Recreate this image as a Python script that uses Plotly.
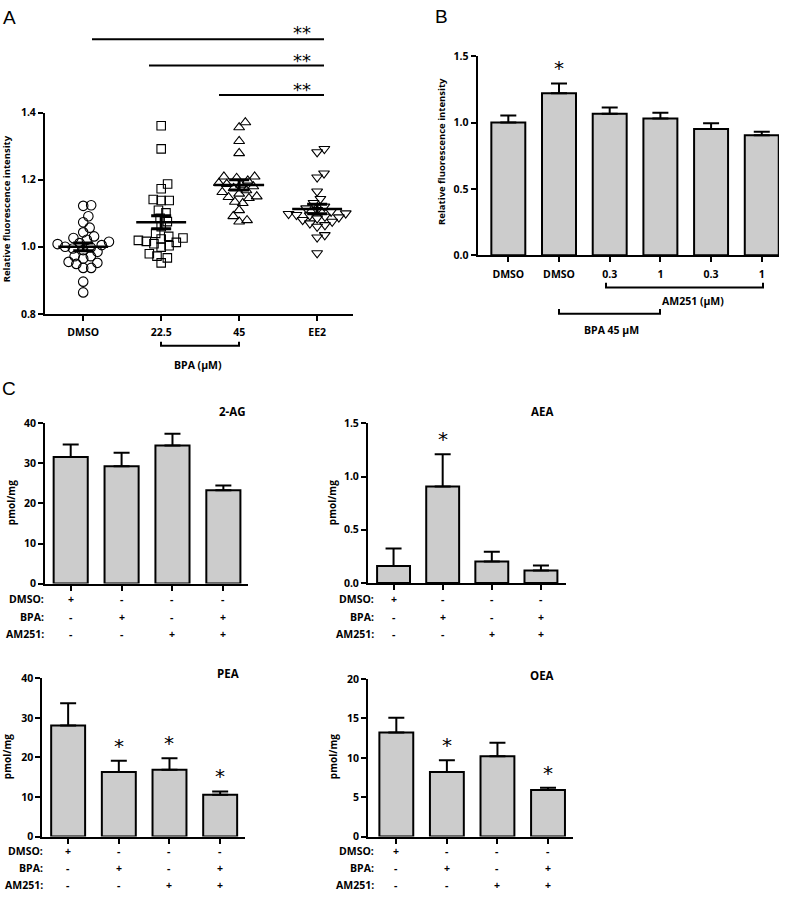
import numpy as np
import plotly.graph_objects as go

W, H = 788, 899

# ---------------- Panel A data ----------------
a_groups = ["DMSO", "22.5", "45", "EE2"]
a_dmso = [1.124, 1.122, 1.091, 1.073, 1.057, 1.043, 1.031, 1.026, 1.021, 1.015,
          1.011, 1.008, 1.005, 1.000, 0.998, 0.995, 0.990, 0.985, 0.972, 0.972,
          0.965, 0.955, 0.952, 0.949, 0.937, 0.937, 0.896, 0.864]
a_bpa225 = [1.361, 1.292, 1.187, 1.173, 1.141, 1.138, 1.138, 1.109, 1.101, 1.085,
            1.075, 1.060, 1.040, 1.031, 1.026, 1.023, 1.019, 1.016, 1.013, 1.009,
            1.003, 0.999, 0.979, 0.972, 0.967, 0.952]
a_bpa45 = [1.371, 1.356, 1.315, 1.279, 1.209, 1.209, 1.205, 1.197, 1.190, 1.187,
           1.185, 1.180, 1.175, 1.168, 1.163, 1.158, 1.150, 1.148, 1.145, 1.134,
           1.130, 1.109, 1.091, 1.079, 1.075]
a_ee2 = [1.292, 1.282, 1.219, 1.207, 1.165, 1.143, 1.131, 1.120, 1.115, 1.110,
         1.105, 1.100, 1.098, 1.095, 1.094, 1.090, 1.088, 1.085, 1.080, 1.075,
         1.070, 1.065, 1.060, 1.035, 1.028, 0.981]
a_symbols = ["circle-open", "square-open", "triangle-up-open", "triangle-down-open"]
a_sizes = [9.5, 8.5, 9.5, 9.5]

# ---------------- Panel B data ----------------
b_labels = ["DMSO", "DMSO", "0.3", "1", "0.3", "1"]
b_mean = [1.000, 1.221, 1.067, 1.030, 0.951, 0.904]
b_sem = [0.053, 0.074, 0.047, 0.045, 0.045, 0.028]
b_sig = [False, True, False, False, False, False]

# ---------------- Panel C data ----------------
c_row_names = ["DMSO:", "BPA:", "AM251:"]
c_dmso_row = ["+", "-", "-", "-"]
c_bpa_row = ["-", "+", "-", "+"]
c_am_row = ["-", "-", "+", "+"]
ag2_mean = [31.6, 29.3, 34.5, 23.3]
ag2_sem = [3.15, 3.4, 2.9, 1.2]
aea_mean = [0.160, 0.907, 0.200, 0.117]
aea_sem = [0.164, 0.303, 0.093, 0.047]
pea_mean = [28.1, 16.3, 16.9, 10.6]
pea_sem = [5.6, 2.9, 2.9, 0.8]
oea_mean = [13.2, 8.2, 10.2, 5.9]
oea_sem = [1.9, 1.5, 1.7, 0.3]
aea_sig = [False, True, False, False]
pea_sig = [False, True, True, True]
oea_sig = [False, True, False, True]

FONT = "Open Sans"
BLACK = "black"
GREY = "#cccccc"


def px(xp):
    return xp / W


def py(yp):
    return 1 - yp / H


def swarm(vals, xscale=78.0, yscale=340.0, d=8.0):
    vals = np.asarray(vals, dtype=float)
    order = np.argsort(vals)
    placed = []
    offs = np.zeros(len(vals))
    for i in order:
        y = vals[i] * yscale
        cands = [0.0]
        for xj, yj in placed:
            dy = abs(y - yj)
            if dy < d:
                dx = np.sqrt(d * d - dy * dy)
                cands += [xj + dx, xj - dx]
        cands.sort(key=abs)
        chosen = 0.0
        for c in cands:
            if all((c - xj) ** 2 + (y - yj) ** 2 >= d * d - 1e-6 for xj, yj in placed):
                chosen = c
                break
        placed.append((chosen, y))
        offs[i] = chosen / xscale
    return offs


fig = go.Figure()

# ---------------- Panel A traces ----------------
groups = [a_dmso, a_bpa225, a_bpa45, a_ee2]
for gi, vals in enumerate(groups):
    offs = swarm(vals)
    fig.add_trace(go.Scatter(
        x=gi + offs, y=vals, mode="markers", xaxis="x", yaxis="y",
        marker=dict(symbol=a_symbols[gi], size=a_sizes[gi], color=BLACK,
                    line=dict(width=1.1, color=BLACK)),
        showlegend=False, hoverinfo="skip"))
for gi, vals in enumerate(groups):
    v = np.asarray(vals)
    m = v.mean()
    s = v.std(ddof=1) / np.sqrt(len(v))
    fig.add_trace(go.Scatter(
        x=[gi - 0.32, gi + 0.32], y=[m, m], mode="lines", xaxis="x", yaxis="y",
        line=dict(color=BLACK, width=2.5), showlegend=False, hoverinfo="skip"))
    fig.add_trace(go.Scatter(
        x=[gi], y=[m], mode="markers", xaxis="x", yaxis="y",
        marker=dict(size=1, color="rgba(0,0,0,0)"),
        error_y=dict(type="data", array=[s], width=10, thickness=3, color=BLACK),
        showlegend=False, hoverinfo="skip"))


def add_bars(mean, sem, xa, ya):
    n = len(mean)
    fig.add_trace(go.Bar(
        x=list(range(n)), y=mean, width=0.67, xaxis=xa, yaxis=ya,
        marker=dict(color=GREY, line=dict(color=BLACK, width=2)),
        error_y=dict(type="data", symmetric=False, array=sem, arrayminus=[0] * n,
                     width=8, thickness=2, color=BLACK),
        showlegend=False, hoverinfo="skip"))


add_bars(b_mean, b_sem, "x2", "y2")
add_bars(ag2_mean, ag2_sem, "x3", "y3")
add_bars(aea_mean, aea_sem, "x4", "y4")
add_bars(pea_mean, pea_sem, "x5", "y5")
add_bars(oea_mean, oea_sem, "x6", "y6")

# ---------------- axes ----------------
tickfont = dict(family=FONT, size=10.5, color=BLACK, weight="bold")


def xax(dom, rng, anchor, tickvals=None, ticktext=None, labels=True):
    return dict(domain=[px(dom[0]), px(dom[1])], range=rng, anchor=anchor,
                showline=True, linecolor=BLACK, linewidth=2, mirror=False,
                ticks="outside", ticklen=5, tickwidth=2, tickcolor=BLACK,
                tickvals=tickvals, ticktext=ticktext, showticklabels=labels,
                showgrid=False, zeroline=False, tickfont=tickfont,
                ticklabelstandoff=3, fixedrange=True)


def yax(dom, rng, anchor, dtick, fmt=None):
    return dict(domain=[py(dom[1]), py(dom[0])], range=rng, anchor=anchor,
                showline=True, linecolor=BLACK, linewidth=2,
                ticks="outside", ticklen=5, tickwidth=2, tickcolor=BLACK,
                tick0=0, dtick=dtick, tickformat=fmt,
                showgrid=False, zeroline=False, tickfont=tickfont,
                fixedrange=True)


layout = dict(
    width=W, height=H, margin=dict(l=0, r=0, t=0, b=0),
    paper_bgcolor="white", plot_bgcolor="white", showlegend=False,
    bargap=0.33,
)
layout["xaxis"] = xax((45, 353), [-0.49, 3.46], "y", [0, 1, 2, 3], a_groups)
layout["yaxis"] = yax((107.3, 311.7), [0.8, 1.4], "x", 0.2, ".1f")
layout["xaxis2"] = xax((477.7, 779), [-0.604, 5.34], "y2", list(range(6)), b_labels)
layout["yaxis2"] = yax((50, 252.3), [0, 1.5], "x2", 0.5, ".1f")
layout["xaxis3"] = xax((45, 248.3), [-0.505, 3.49], "y3", [0, 1, 2, 3], None, False)
layout["yaxis3"] = yax((423, 585.7), [0, 40], "x3", 10)
layout["xaxis4"] = xax((368, 566), [-0.52, 3.51], "y4", [0, 1, 2, 3], None, False)
layout["yaxis4"] = yax((423, 585), [0, 1.5], "x4", 0.5, ".1f")
layout["xaxis5"] = xax((42.3, 245), [-0.51, 3.49], "y5", [0, 1, 2, 3], None, False)
layout["yaxis5"] = yax((682, 842.7), [0, 40], "x5", 10)
layout["xaxis6"] = xax((368, 573.3), [-0.56, 3.5], "y6", [0, 1, 2, 3], None, False)
layout["yaxis6"] = yax((682.7, 842.7), [0, 20], "x6", 5)

shapes = []
ann = []


def line_px(x0, y0, x1, y1, w=2):
    shapes.append(dict(type="line", xref="paper", yref="paper",
                       x0=px(x0), y0=py(y0), x1=px(x1), y1=py(y1),
                       line=dict(color=BLACK, width=w)))


def bracket(x0, x1, y, up=5):
    shapes.append(dict(type="path", xref="paper", yref="paper",
                       path=f"M{px(x0)},{py(y - up)} L{px(x0)},{py(y)} L{px(x1)},{py(y)} L{px(x1)},{py(y - up)}",
                       line=dict(color=BLACK, width=2)))


def text_px(x, y, t, size=10.5, bold=True, xanchor="center", family=FONT, angle=0):
    ann.append(dict(x=px(x), y=py(y), xref="paper", yref="paper", text=t,
                    showarrow=False, xanchor=xanchor, yanchor="middle",
                    textangle=angle, borderpad=0,
                    font=dict(family=family, size=size, color=BLACK,
                              weight="bold" if bold else "normal")))


# panel letters
text_px(2, 11, "A", size=19, bold=False, xanchor="left", family="Liberation Sans")
text_px(434, 10, "B", size=19, bold=False, xanchor="left", family="Liberation Sans")
text_px(1, 388, "C", size=19, bold=False, xanchor="left", family="Liberation Sans")

# Panel A significance lines
for (x0, yl, ys) in [(92, 32.7, 25.5), (149, 59.3, 54), (219, 89.3, 84)]:
    line_px(x0, yl, 324, yl)
    text_px(302, ys, "**", size=18, bold=False, family="DejaVu Sans")

# Panel A bracket + labels
bracket(161, 239, 344, 4)
text_px(198, 364, "BPA (\u00b5M)")
text_px(6, 205.5, "Relative fluorescence intensity", size=9.5, angle=-90)

# Panel B
text_px(441.7, 146.5, "Relative fluorescence intensity", size=9.5, angle=-90)
bracket(606, 763, 285, 5)
text_px(693, 299, "AM251 (\u00b5M)")
bracket(559, 660, 311.7, 5)
text_px(611, 328.3, "BPA 45 \u00b5M")


def asterisks(means, sems, sig, xa, ya, shift=1):
    for i, (m, s, g) in enumerate(zip(means, sems, sig)):
        if g:
            ann.append(dict(x=i, y=m + s, xref=xa, yref=ya, text="*",
                            showarrow=False, xanchor="center", yanchor="bottom",
                            yshift=shift,
                            font=dict(family="DejaVu Sans", size=20, color=BLACK)))


asterisks(b_mean, b_sem, b_sig, "x2", "y2")
asterisks(aea_mean, aea_sem, aea_sig, "x4", "y4")
asterisks(pea_mean, pea_sem, pea_sig, "x5", "y5")
asterisks(oea_mean, oea_sem, oea_sig, "x6", "y6")

# Panel C titles and y titles
text_px(232, 411, "2-AG", size=11.5)
text_px(542, 411, "AEA", size=11.5)
text_px(228, 677, "PEA", size=11.5)
text_px(542, 679, "OEA", size=11.5)
text_px(11, 504, "pmol/mg", size=10, angle=-90)
text_px(332, 504, "pmol/mg", size=10, angle=-90)
text_px(7, 762, "pmol/mg", size=10, angle=-90)
text_px(333, 762, "pmol/mg", size=10, angle=-90)

# treatment rows
rows = [c_dmso_row, c_bpa_row, c_am_row]
panels = [("x3", 45, (601.7, 619.3, 637)), ("x4", 375, (601.7, 619.3, 637)),
          ("x5", 44, (857, 874.5, 891.5)), ("x6", 375, (857, 874.5, 891.5))]
for xa, lab_x, ys in panels:
    for r, (name, row) in enumerate(zip(c_row_names, rows)):
        text_px(lab_x, ys[r], name, xanchor="right")
        for i, sgn in enumerate(row):
            ann.append(dict(x=i, y=py(ys[r]), xref=xa, yref="paper", text=sgn,
                            showarrow=False, xanchor="center", yanchor="middle",
                            borderpad=0,
                            font=dict(family=FONT, size=10.5, color=BLACK, weight="bold")))

layout["shapes"] = shapes
layout["annotations"] = ann
fig.update_layout(**layout)
fig.write_html("out.html",
               config={"displayModeBar": False, "staticPlot": True},
               post_script="document.body.style.margin='0';document.body.style.padding='0';")
